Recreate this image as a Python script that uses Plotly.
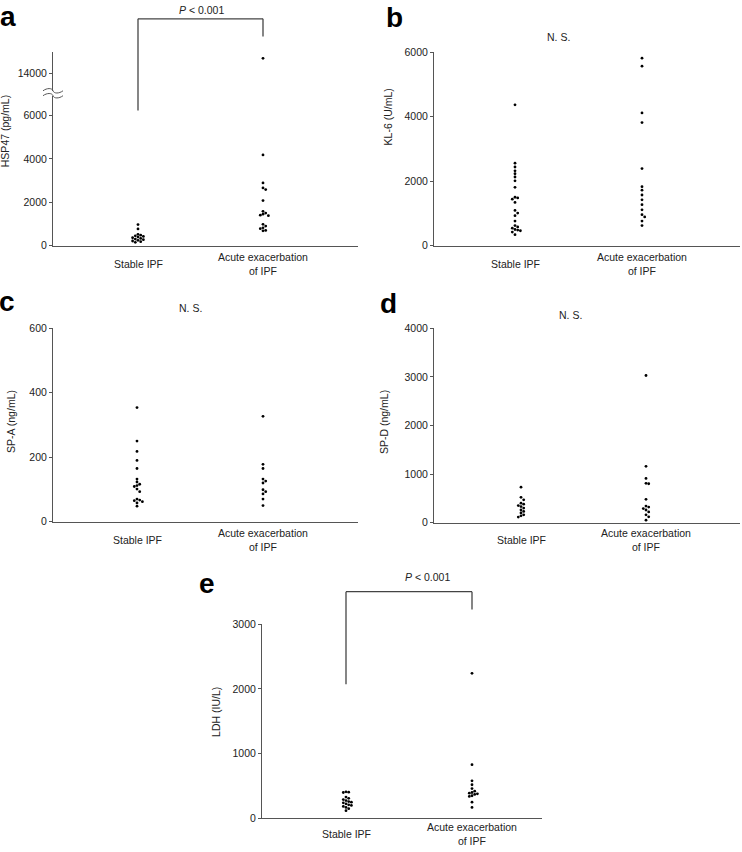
import plotly.graph_objects as go

W, H = 742, 852

# ---------------- data ----------------
categories = ["Stable IPF", "Acute exacerbation<br>of IPF"]

hsp47_stable = [970, 770, 520, 480, 450, 420, 390, 360, 330, 300, 270, 240, 210, 180, 150]
hsp47_acute = [14680, 4180, 2890, 2660, 2580, 2075, 1580, 1500, 1450, 1400, 1380,
               980, 900, 820, 780, 700, 680]

kl6_stable = [4370, 2560, 2440, 2320, 2230, 2130, 2010, 1810, 1500, 1480, 1440, 1340,
              1090, 1010, 930, 760, 620, 580, 540, 500, 480, 460, 420, 340]
kl6_acute = [5820, 5570, 4120, 3820, 2390, 1830, 1720, 1570, 1420, 1270, 1110, 960,
             890, 760, 620]

spa_stable = [354, 250, 218, 190, 165, 132, 123, 116, 112, 109, 101, 93, 70, 67, 65,
              62, 58, 48]
spa_acute = [327, 178, 165, 132, 126, 120, 99, 93, 86, 70, 50]

spd_stable = [730, 520, 470, 400, 380, 350, 330, 300, 260, 230, 200, 160, 140, 115]
spd_acute = [3030, 1160, 910, 810, 800, 480, 340, 320, 290, 260, 220, 160, 120, 50]

ldh_stable = [410, 405, 400, 330, 310, 290, 275, 260, 250, 240, 225, 210, 200, 185,
              170, 150, 120]
ldh_acute = [2240, 830, 580, 520, 460, 420, 400, 390, 380, 370, 350, 340, 250, 170]

ytitles = ["HSP47 (pg/mL)", "KL-6 (U/mL)", "SP-A (ng/mL)", "SP-D (ng/mL)", "LDH (IU/L)"]
panel_letters = ["a", "b", "c", "d", "e"]
sig_labels = ["<i>P</i> < 0.001", "N. S.", "N. S.", "N. S.", "<i>P</i> < 0.001"]

# ---------------- layout geometry (pixels) ----------------
def px(p):
    return p / W


def py(p):
    return 1 - p / H


FONT = "Liberation Sans, Arial, sans-serif"
AX = "#555555"
TXT = "#222222"

panels = [
    dict(xl=53, xr=358, c0=138, c1=263, yb=243, yt=91, yr=[0, 6909], tv=[0, 2000, 4000, 6000]),
    dict(xl=434, xr=740, c0=515, c1=642, yb=243, yt=47, yr=[0, 6000], tv=[0, 2000, 4000, 6000]),
    dict(xl=53, xr=358, c0=137, c1=263, yb=523, yt=327, yr=[0, 600], tv=[0, 200, 400, 600]),
    dict(xl=434, xr=740, c0=521, c1=646, yb=524, yt=327, yr=[0, 4000], tv=[0, 1000, 2000, 3000, 4000]),
    dict(xl=262, xr=542, c0=346, c1=472, yb=824, yt=627, yr=[0, 3000], tv=[0, 1000, 2000, 3000]),
]
upper_a = dict(yb=86, yt=47, yr=[13182, 14955], tv=[14000])
label_y = [262, 262, 542, 542, 840]


def swarm(values, px_per_val, d=2.7):
    order = sorted(range(len(values)), key=lambda i: -values[i])
    placed = []
    offs = [0.0] * len(values)
    cands = [0]
    for k in range(1, 8):
        cands += [k * d, -k * d]
    for i in order:
        yp = values[i] * px_per_val
        for c in cands:
            ok = True
            for (xo, yo) in placed:
                if (xo - c) ** 2 + (yo - yp) ** 2 < d * d:
                    ok = False
                    break
            if ok:
                offs[i] = c
                placed.append((c, yp))
                break
    return offs


fig = go.Figure()
layout = dict(
    width=W, height=H,
    margin=dict(l=0, r=0, t=0, b=0),
    paper_bgcolor="white", plot_bgcolor="white",
    showlegend=False,
    font=dict(family=FONT, size=10.5, color=TXT),
)

datasets = [
    (hsp47_stable, hsp47_acute),
    (kl6_stable, kl6_acute),
    (spa_stable, spa_acute),
    (spd_stable, spd_acute),
    (ldh_stable, ldh_acute),
]

annotations = []
shapes = []
MS = 2.8

for k, (p, (st, ac)) in enumerate(zip(panels, datasets)):
    sfx = "" if k == 0 else str(k + 1)
    xname, yname = "x" + sfx, "y" + sfx
    ppc = (p["c1"] - p["c0"])
    xr = [(p["xl"] - p["c0"]) / ppc, (p["xr"] - p["c0"]) / ppc]
    layout["xaxis" + sfx] = dict(
        domain=[px(p["xl"]), px(p["xr"])], range=xr, anchor=yname,
        showline=True, linecolor=AX, linewidth=1, ticks="", showticklabels=False,
        showgrid=False, zeroline=False, fixedrange=True,
    )
    layout["yaxis" + sfx] = dict(
        domain=[py(p["yb"]), py(p["yt"])], range=p["yr"], anchor=xname,
        showline=True, linecolor=AX, linewidth=1, ticks="outside", ticklen=3,
        tickcolor=AX, tickvals=p["tv"], ticktext=[str(v) for v in p["tv"]],
        showgrid=False, zeroline=False,
        tickfont=dict(family=FONT, size=10.5, color=TXT), fixedrange=True,
    )
    ppv = (p["yb"] - p["yt"]) / (p["yr"][1] - p["yr"][0])
    for ci, vals in enumerate((st, ac)):
        if k == 0:
            low = [v for v in vals if v < 10000]
            high = [v for v in vals if v >= 10000]
        else:
            low, high = vals, []
        offs = swarm(low, ppv)
        fig.add_trace(go.Scatter(
            x=[ci + o / ppc for o in offs], y=low, mode="markers",
            marker=dict(color="black", size=MS, symbol="circle"),
            xaxis=xname, yaxis=yname, hoverinfo="y",
        ))
        if high:
            fig.add_trace(go.Scatter(
                x=[ci] * len(high), y=high, mode="markers",
                marker=dict(color="black", size=MS, symbol="circle"),
                xaxis="x", yaxis="y6", hoverinfo="y",
            ))
    for ci, cat in enumerate(categories):
        annotations.append(dict(
            x=ci, y=py(label_y[k]), xref=xname, yref="paper", text=cat, showarrow=False,
            xanchor="center", yanchor="middle", align="center",
            font=dict(family=FONT, size=10.5, color=TXT),
        ))

layout["yaxis6"] = dict(
    domain=[py(upper_a["yb"]), py(upper_a["yt"])], range=upper_a["yr"], anchor="x",
    showline=True, linecolor=AX, linewidth=1, ticks="outside", ticklen=3,
    tickcolor=AX, tickvals=upper_a["tv"], ticktext=[str(v) for v in upper_a["tv"]],
    showgrid=False, zeroline=False,
    tickfont=dict(family=FONT, size=10.5, color=TXT), fixedrange=True,
)

ytitle_pos = [(5, 127), (388, 113), (11, 422), (384, 422), (216, 716)]
for t, (xx, yy) in zip(ytitles, ytitle_pos):
    annotations.append(dict(
        x=px(xx), y=py(yy), xref="paper", yref="paper", text=t, showarrow=False,
        textangle=-90, xanchor="center", yanchor="middle",
        font=dict(family=FONT, size=10.5, color=TXT),
    ))

letter_pos = [(8, 11), (394, 12), (7, 300), (388, 302), (207, 586)]
for t, (xx, yy) in zip(panel_letters, letter_pos):
    annotations.append(dict(
        x=px(xx), y=py(yy), xref="paper", yref="paper", text="<b>%s</b>" % t,
        showarrow=False, xanchor="center", yanchor="middle",
        font=dict(family=FONT, size=28, color="black"),
    ))

sig_pos = [(201, 4), (558, 31), (190, 306), (570, 313), (428, 579)]
for t, (xx, yy) in zip(sig_labels, sig_pos):
    annotations.append(dict(
        x=px(xx), y=py(yy), xref="paper", yref="paper", text=t, showarrow=False,
        xanchor="center", yanchor="middle",
        font=dict(family=FONT, size=10.5, color=TXT),
    ))

for xname, ytop, yleft, yright in [("x", 13, 106, 31), ("x5", 594, 688, 612)]:
    line = dict(color="#444444", width=1.3)
    shapes.append(dict(type="line", xref=xname, yref="paper", x0=0, x1=0,
                       y0=py(yleft), y1=py(ytop), line=line))
    shapes.append(dict(type="line", xref=xname, yref="paper", x0=0, x1=1,
                       y0=py(ytop), y1=py(ytop), line=line))
    shapes.append(dict(type="line", xref=xname, yref="paper", x0=1, x1=1,
                       y0=py(ytop), y1=py(yright), line=line))

for yc in (86, 91):
    pts = [(43, yc), (47, yc - 3), (52, yc - 3), (53, yc), (54, yc + 3), (59, yc + 3), (63, yc)]
    path = "M {},{} C {},{} {},{} {},{} C {},{} {},{} {},{}".format(
        px(pts[0][0]), py(pts[0][1]), px(pts[1][0]), py(pts[1][1]),
        px(pts[2][0]), py(pts[2][1]), px(pts[3][0]), py(pts[3][1]),
        px(pts[4][0]), py(pts[4][1]), px(pts[5][0]), py(pts[5][1]),
        px(pts[6][0]), py(pts[6][1]))
    shapes.append(dict(type="path", xref="paper", yref="paper", path=path,
                       line=dict(color=AX, width=1)))

layout["annotations"] = annotations
layout["shapes"] = shapes
fig.update_layout(**layout)
fig.write_html(
    "out.html",
    config={"displayModeBar": False},
    post_script="document.body.style.margin='0';document.body.style.overflow='hidden';",
)
